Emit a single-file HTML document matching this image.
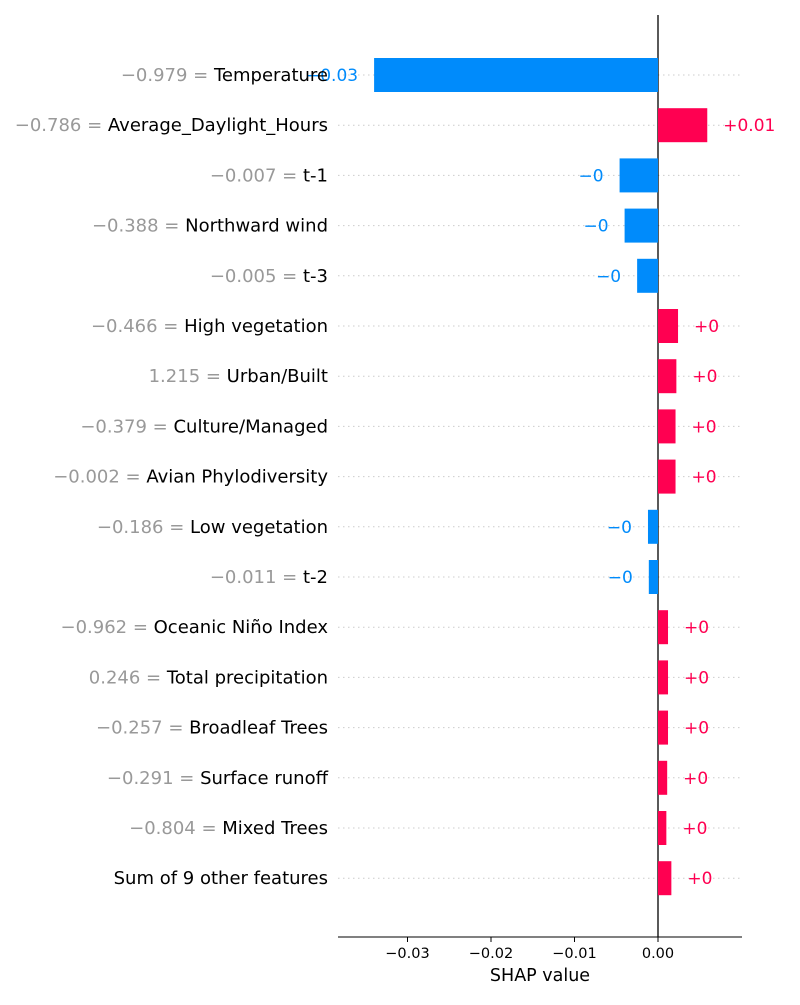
<!DOCTYPE html>
<html><head><meta charset="utf-8"><style>
body{margin:0;background:#fff}
svg text{font-family:"DejaVu Sans","Liberation Sans",sans-serif}
</style></head><body>
<svg id="chart" width="800" height="1000" xmlns="http://www.w3.org/2000/svg"></svg>
<script>
const featureValues=["\u22120.979","\u22120.786","\u22120.007","\u22120.388","\u22120.005","\u22120.466","1.215","\u22120.379","\u22120.002","\u22120.186","\u22120.011","\u22120.962","0.246","\u22120.257","\u22120.291","\u22120.804",""];
const featureNames=["Temperature","Average_Daylight_Hours","t-1","Northward wind","t-3","High vegetation","Urban/Built","Culture/Managed","Avian Phylodiversity","Low vegetation","t-2","Oceanic Niño Index","Total precipitation","Broadleaf Trees","Surface runoff","Mixed Trees","Sum of 9 other features"];
const shapValues=[-0.034,0.0059,-0.0046,-0.0040,-0.0025,0.0024,0.0022,0.0021,0.0021,-0.0012,-0.0011,0.0012,0.0012,0.0012,0.0011,0.0010,0.0016];
const valueLabels=["\u22120.03","+0.01","\u22120","\u22120","\u22120","+0","+0","+0","+0","\u22120","\u22120","+0","+0","+0","+0","+0","+0"];
const xTicks=[-0.03,-0.02,-0.01,0.00];
const xTickLabels=["\u22120.03","\u22120.02","\u22120.01","0.00"];
const NS="http://www.w3.org/2000/svg";
const svg=document.getElementById('chart');
const x=v=>658+v*8350;
const y=i=>75+i*50.2;
function mk(t,a,p){const e=document.createElementNS(NS,t);for(const k in a)e.setAttribute(k,a[k]);(p||svg).appendChild(e);return e;}
featureNames.forEach((n,i)=>{
  const g=mk('line',{x1:338,x2:742,y1:y(i),y2:y(i),stroke:'#ccc','stroke-dasharray':'1.5,3.5','stroke-width':1});
  
  
});
const zl=mk('line',{x1:658,x2:658,y1:15,y2:937,stroke:'#000','stroke-width':1.3});


shapValues.forEach((v,i)=>{
  const pos=v>=0;
  const x0=Math.min(x(0),x(v)),w=Math.abs(x(v)-x(0));
  const r=mk('rect',{x:x0,y:y(i)-17,width:w,height:34,fill:pos?'#ff0051':'#008bfb'});
  
  
  const t=mk('text',{x:pos?x(v)+16:x(v)-16,y:y(i)+6,'font-size':17,fill:pos?'#ff0051':'#008bfb','text-anchor':pos?'start':'end'});
  t.textContent=valueLabels[i];
  
  
  const l=mk('text',{x:328,y:y(i)+6,'font-size':18,'text-anchor':'end'});
  
  
  if(featureValues[i]){const s=mk('tspan',{fill:'#999'},l);s.textContent=featureValues[i]+' = ';}
  const s2=mk('tspan',{fill:'#000'},l);s2.textContent=featureNames[i];
});
const ax=mk('line',{x1:338,x2:742,y1:937,y2:937,stroke:'#000','stroke-width':1});


xTicks.forEach((v,i)=>{
  const tk=mk('line',{x1:x(v),x2:x(v),y1:937,y2:942,stroke:'#000'});
  
  
  const t=mk('text',{x:x(v),y:958,'font-size':14.5,'text-anchor':'middle',fill:'#000'});
  t.textContent=xTickLabels[i];
  
  
});
const xt=mk('text',{x:540,y:981,'font-size':17.5,'text-anchor':'middle'});
xt.textContent='SHAP value';


</script>
</body></html>
